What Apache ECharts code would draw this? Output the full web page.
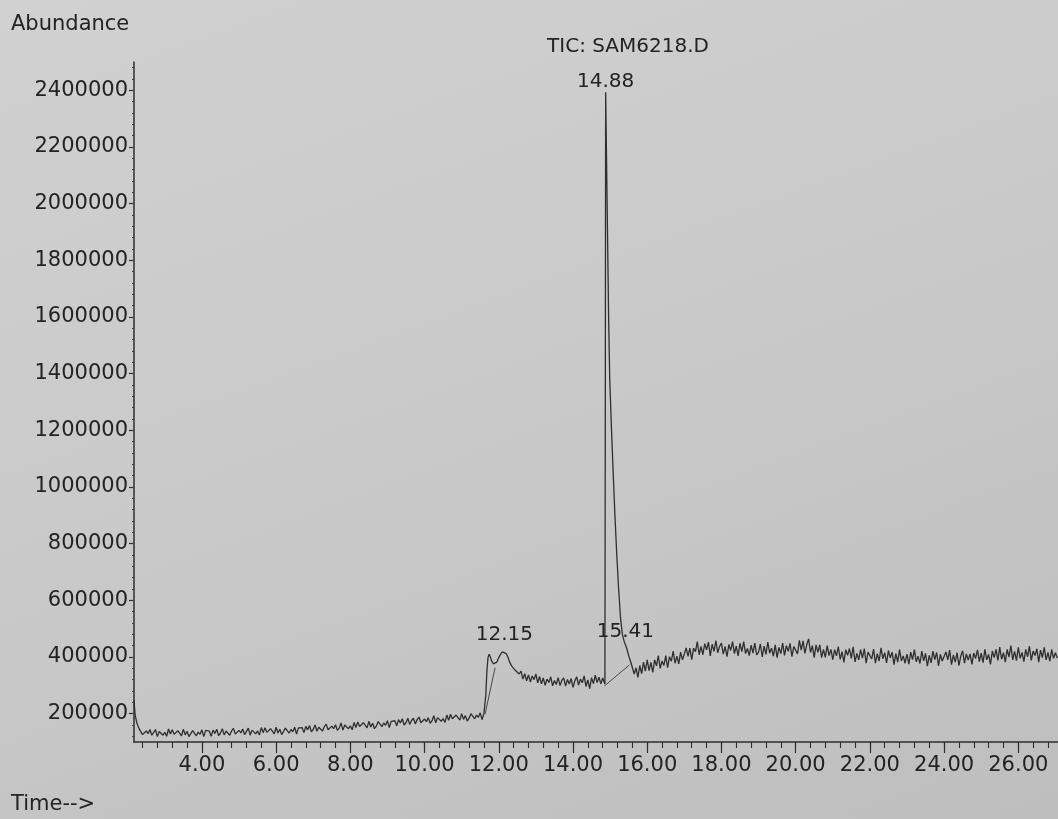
<!DOCTYPE html>
<html><head><meta charset="utf-8">
<script src="https://cdn.jsdelivr.net/npm/echarts@6/dist/echarts.min.js"></script>
<style>
html,body{margin:0;padding:0;width:1058px;height:819px;overflow:hidden;
background:linear-gradient(160deg,#d1d1d1 0%,#c8c8c8 55%,#bebebe 100%);}
#c{width:1058px;height:819px;}
</style>
</head><body><div id="c"></div><script>
// ---- axis ranges and tick labels ----
const X_MIN = 2.17, X_MAX = 27.07;
const Y_MIN = 100000, Y_MAX = 2500000;
const xTickLabels = [4, 6, 8, 10, 12, 14, 16, 18, 20, 22, 24, 26];
const yTickLabels = [200000, 400000, 600000, 800000, 1000000, 1200000, 1400000,
  1600000, 1800000, 2000000, 2200000, 2400000];

// ---- TIC trace (abundance in thousands) ----
const traceStart = [[2.17, 248]];
const earlyStart = 2.2, earlyStep = 0.05;
const earlyBaseline = [
  196, 166, 149, 146, 126, 119, 139, 130, 144, 124,
  126, 144, 119, 137, 142, 124, 134, 120, 146, 128,
  143, 127, 120, 140, 135, 122, 145, 125, 138, 119,
  124, 140, 147, 122, 135, 127, 143, 119, 141, 134,
  138, 120, 142, 130, 145, 123, 131, 147, 125, 139,
  144, 124, 139, 148, 128, 121, 141, 132, 146, 126,
  131, 149, 124, 142, 147, 129, 139, 125, 151, 133,
  150, 134, 127, 147, 142, 129, 152, 132, 145, 126,
  133, 149, 156, 131, 144, 136, 152, 128, 150, 143,
  151, 133, 155, 143, 158, 136, 144, 160, 138, 152,
  159, 139, 154, 163, 143, 136, 156, 147, 161, 141,
  149, 167, 142, 160, 165, 147, 157, 143, 169, 151,
  171, 155, 148, 168, 163, 150, 173, 153, 166, 147,
  156, 172, 179, 154, 167, 159, 175, 151, 173, 166,
  175, 157, 179, 167, 182, 160, 168, 184, 162, 176,
  184, 164, 179, 188, 168, 161, 181, 172, 186, 166,
  175, 193, 168, 186, 191, 173, 183, 169, 195, 177,
  198, 182, 175, 195, 190, 177, 200, 180, 193, 174,
  184, 200, 207, 182, 195, 187, 203, 179, 201
];
const peak1215 = [
  [11.62, 198], [11.65, 265], [11.68, 350], [11.71, 398], [11.74, 410], [11.77, 402],
  [11.80, 388], [11.85, 376], [11.90, 370], [11.95, 382], [12.00, 398], [12.05, 410],
  [12.10, 418], [12.15, 420], [12.20, 412], [12.25, 398], [12.30, 380], [12.35, 368],
  [12.40, 360], [12.45, 352], [12.50, 347], [12.55, 340]
];
const midStart = 12.6, midStep = 0.05;
const midBaseline = [
  350, 322, 341, 316, 337, 312, 333, 320, 340, 309,
  331, 305, 326, 300, 322, 310, 330, 298, 317, 303,
  327, 299, 318, 326, 297, 321, 305, 324, 293, 316,
  330, 301, 322, 309, 333, 296, 319, 288, 327, 306,
  336, 310, 329, 305, 326
];
const peak1488 = [
  [14.84, 322], [14.86, 305], [14.87, 1200], [14.88, 2393], [14.90, 2200], [14.93, 1900],
  [14.96, 1600], [14.99, 1380], [15.03, 1230], [15.08, 1060], [15.13, 900], [15.18, 760],
  [15.23, 640], [15.28, 540], [15.33, 480], [15.38, 455], [15.41, 452], [15.45, 430],
  [15.50, 405], [15.55, 385]
];
const lateStart = 15.6, lateStep = 0.05;
const lateBaseline = [
  380, 340, 362, 328, 370, 341, 382, 350,
  390, 352, 381, 346, 390, 369, 405, 360, 386, 370, 405, 362, 401, 385, 421, 378, 403, 376, 417, 390,
  391, 432, 402, 431, 391, 431, 419, 454, 408, 437, 408, 447, 425, 453, 404, 445, 420, 458, 415, 437,
  449, 410, 437, 401, 444, 423, 454, 412, 438, 404, 448, 419, 454, 412, 430, 405, 442, 414, 449, 407,
  417, 446, 400, 438, 409, 453, 414, 431, 403, 443, 398, 434, 412, 449, 406, 440, 420, 448, 401, 437,
  444, 411, 459, 424, 457, 413, 444, 464, 416, 440, 398, 443, 416, 443, 398, 427, 399, 440, 405, 427,
  391, 426, 404, 437, 392, 419, 381, 426, 406, 430, 395, 436, 383, 413, 390, 426, 396, 430, 378, 417,
  424, 393, 428, 378, 412, 386, 432, 394, 415, 379, 423, 397, 417, 373, 412, 382, 426, 386, 404, 378,
  410, 375, 417, 391, 426, 383, 403, 377, 421, 386, 413, 368, 406, 379, 421, 391, 416, 369, 409, 386,
  379, 418, 390, 424, 373, 407, 382, 415, 370, 403, 422, 378, 411, 389, 411, 374, 414, 395, 425, 384,
  414, 380, 427, 390, 409, 374, 421, 398, 427, 388, 435, 392, 415, 382, 427, 400, 440, 390, 420, 387,
  434, 395, 416, 384, 427, 401, 438, 388, 421, 405, 429, 382, 424, 398, 434, 390, 416, 385, 427, 395,
  415, 396
];
// integration baselines drawn by the data system
const baseline1215 = [[11.63, 198], [11.90, 362]];
const baseline1488 = [[14.85, 298], [15.52, 372]];
// labelled peaks
const peakTimes = [12.15, 14.88, 15.41];
const peakHeights = [420, 2393, 452];

// ---- build series data ----
const K = 1000;
const r2 = v => Math.round(v * 100) / 100;
const sampled = (start, step, vals) => vals.map((v, i) => [r2(start + i * step), v * K]);
const pairs = arr => arr.map(p => [p[0], p[1] * K]);
const trace = [].concat(
  pairs(traceStart),
  sampled(earlyStart, earlyStep, earlyBaseline),
  pairs(peak1215),
  sampled(midStart, midStep, midBaseline),
  pairs(peak1488),
  sampled(lateStart, lateStep, lateBaseline)
);
const xMinor = [];
for (let t = 2.4; t <= X_MAX; t += 0.4) xMinor.push(r2(t));
const yMinor = [];
for (let v = 120000; v <= Y_MAX; v += 40000) yMinor.push(v);

const FONT = 'DejaVu Sans';
const INK = '#232323';
const labelGaps = [7, 1, 0];

const chart = echarts.init(document.getElementById('c'), null, {renderer: 'canvas'});
chart.setOption({
  backgroundColor: 'transparent',
  animation: false,
  title: {
    text: 'TIC: SAM6218.D', left: 623, top: 32, textAlign: 'center',
    textStyle: {fontFamily: FONT, fontSize: 20, fontWeight: 'normal', color: INK}
  },
  graphic: [
    {type: 'text', left: 11, top: 14, style: {text: 'Abundance', font: '21px "DejaVu Sans"', fill: INK}},
    {type: 'text', left: 11, top: 794, style: {text: 'Time-->', font: '21px "DejaVu Sans"', fill: INK}}
  ],
  grid: {left: 134, right: 0, top: 62, bottom: 77, containLabel: false},
  xAxis: [{
    type: 'value', min: X_MIN, max: X_MAX, position: 'bottom',
    axisLine: {show: true, onZero: false, lineStyle: {color: '#2e2e2e', width: 1.5}},
    splitLine: {show: false},
    axisTick: {show: true, customValues: xTickLabels, length: 11, lineStyle: {color: '#2e2e2e', width: 1.2}},
    axisLabel: {customValues: xTickLabels, formatter: v => v.toFixed(2), fontFamily: FONT, fontSize: 21, color: INK, margin: 13}
  }, {
    type: 'value', min: X_MIN, max: X_MAX, position: 'bottom',
    axisLine: {show: false}, splitLine: {show: false},
    axisTick: {show: true, customValues: xMinor, length: 6, lineStyle: {color: '#2e2e2e', width: 1.1}},
    axisLabel: {show: false}
  }],
  yAxis: [{
    type: 'value', min: Y_MIN, max: Y_MAX, position: 'left',
    axisLine: {show: true, onZero: false, lineStyle: {color: '#2e2e2e', width: 1.5}},
    splitLine: {show: false},
    axisTick: {show: true, customValues: yTickLabels, length: 5, lineStyle: {color: '#2e2e2e', width: 1.2}},
    axisLabel: {customValues: yTickLabels, formatter: v => String(v), fontFamily: FONT, fontSize: 21, color: INK, margin: 6}
  }, {
    type: 'value', min: Y_MIN, max: Y_MAX, position: 'left',
    axisLine: {show: false}, splitLine: {show: false},
    axisTick: {show: true, customValues: yMinor, length: 2, lineStyle: {color: '#444', width: 1}},
    axisLabel: {show: false}
  }],
  series: [{
    name: 'TIC', type: 'line', data: trace, showSymbol: false, symbol: 'none',
    lineStyle: {color: '#2f2f2f', width: 1.3}, sampling: null, z: 3
  }, {
    name: 'base1', type: 'line', data: pairs(baseline1215), showSymbol: false, symbol: 'none',
    lineStyle: {color: '#3a3a3a', width: 0.9}, z: 2
  }, {
    name: 'base2', type: 'line', data: pairs(baseline1488), showSymbol: false, symbol: 'none',
    lineStyle: {color: '#3a3a3a', width: 0.9}, z: 2
  }, {
    name: 'peaks', type: 'scatter', symbolSize: 0,
    data: peakTimes.map((t, i) => ({
      value: [t, peakHeights[i] * K],
      label: {distance: labelGaps[i]}
    })),
    label: {show: true, position: 'top', formatter: p => p.value[0].toFixed(2),
      fontFamily: FONT, fontSize: 20, color: INK, opacity: 1},
    itemStyle: {opacity: 1},
    z: 4
  }]
});
</script></body></html>
